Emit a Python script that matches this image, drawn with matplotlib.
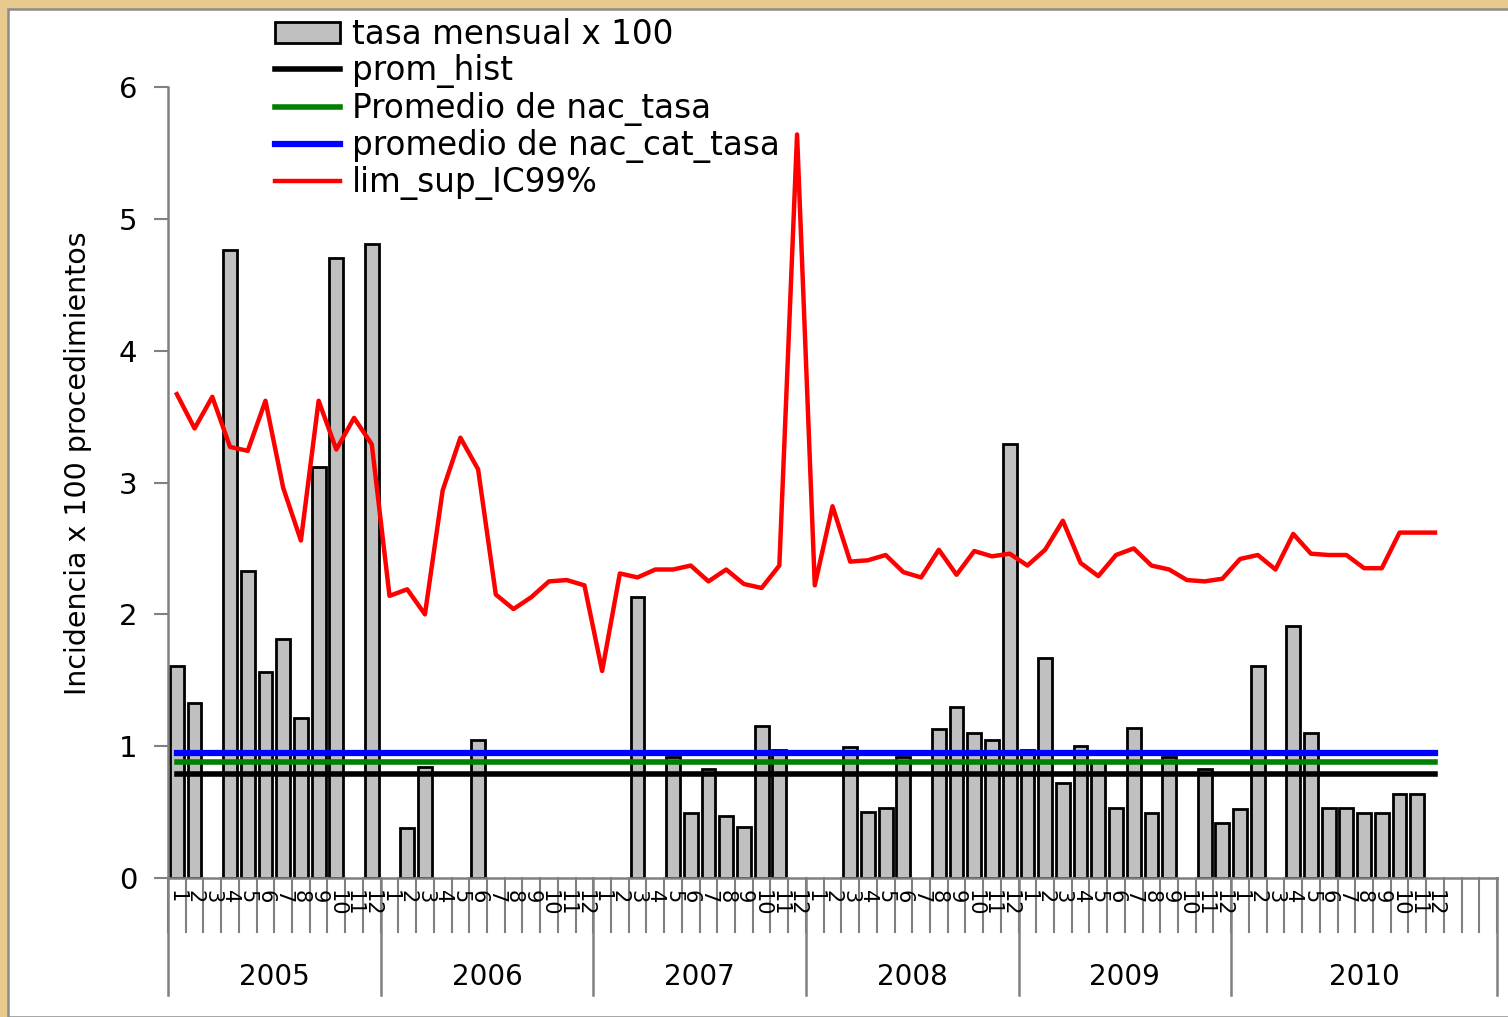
import numpy as np
import matplotlib
matplotlib.use("Agg")
import matplotlib.pyplot as plt
from matplotlib.patches import Rectangle, Patch
from matplotlib.lines import Line2D

plt.rcParams['font.family'] = ['DejaVu Sans']

# data: 72 months (2005-2010), None = no bar that month
years = ['2005', '2006', '2007', '2008', '2009', '2010']
months = [str(m) for m in range(1, 13)]

tasa = [1.61, 1.33, None, 4.76, 2.33, 1.56, 1.81, 1.21, 3.12, 4.70, None, 4.81,
        None, 0.38, 0.84, None, None, 1.05, None, None, None, None, None, None,
        None, None, 2.13, None, 0.92, 0.49, 0.83, 0.47, 0.39, 1.15, 0.97, None,
        None, None, 0.99, 0.50, 0.53, 0.92, None, 1.13, 1.30, 1.10, 1.05, 3.29,
        0.97, 1.67, 0.72, 1.00, 0.89, 0.53, 1.14, 0.49, 0.92, None, 0.83, 0.42,
        0.52, 1.61, None, 1.91, 1.10, 0.53, 0.53, 0.49, 0.49, 0.64, 0.64, None]

lim_sup = [3.67, 3.41, 3.65, 3.27, 3.24, 3.62, 2.96, 2.56, 3.62, 3.25, 3.49, 3.29,
           2.14, 2.19, 2.00, 2.94, 3.34, 3.10, 2.15, 2.04, 2.13, 2.25, 2.26, 2.22,
           1.57, 2.31, 2.28, 2.34, 2.34, 2.37, 2.25, 2.34, 2.23, 2.20, 2.37, 5.64,
           2.22, 2.82, 2.40, 2.41, 2.45, 2.32, 2.28, 2.49, 2.30, 2.48, 2.44, 2.46,
           2.37, 2.49, 2.71, 2.39, 2.29, 2.45, 2.50, 2.37, 2.34, 2.26, 2.25, 2.27,
           2.42, 2.45, 2.34, 2.61, 2.46, 2.45, 2.45, 2.35, 2.35, 2.62, 2.62, 2.62]

prom_hist = 0.79
nac_tasa = 0.88
nac_cat_tasa = 0.946

n_extra = 3  # empty categories at the end of 2010
W, H = 1508, 1017

fig = plt.figure(figsize=(W / 100, H / 100), dpi=100)
fig.patch.set_facecolor('#E8CA8E')
fig.patches.append(Rectangle((8 / W, 0), 1, 1 - 9 / H, transform=fig.transFigure,
                             facecolor='white', edgecolor='#8C8C8C', linewidth=1.8,
                             zorder=-5))

ax = fig.add_axes([168 / W, (H - 878) / H, (1497 - 168) / W, (878 - 87) / H])
ax.set_facecolor('none')
ax.set_zorder(2)

n = len(tasa)
x = np.arange(n)
h = np.array([np.nan if v is None else v for v in tasa])
mask = ~np.isnan(h)
ax.bar(x[mask], h[mask], width=0.78, color='#C0C0C0', edgecolor='black',
       linewidth=2, zorder=2)

ax.plot(x, [prom_hist] * n, color='black', linewidth=4, zorder=3)
ax.plot(x, [nac_tasa] * n, color='#008000', linewidth=4, zorder=3)
ax.plot(x, [nac_cat_tasa] * n, color='#0000FF', linewidth=4.5, zorder=3)
ax.plot(x, lim_sup, color='#FF0000', linewidth=3.2, zorder=4)

total = n + n_extra
ax.set_xlim(-0.5, total - 0.5)
ax.set_ylim(0, 6)
ax.set_yticks(range(0, 7))
ax.tick_params(axis='y', direction='out', length=10, width=1.5, color='#808080',
               labelsize=21, pad=12)
ax.set_xticks([])
for s in ['top', 'right']:
    ax.spines[s].set_visible(False)
for s in ['left', 'bottom']:
    ax.spines[s].set_color('#808080')
    ax.spines[s].set_linewidth(1.8)

# multi level category axis
tr = ax.get_xaxis_transform()
ax_h = 878 - 87
for k in range(total + 1):
    ax.plot([k - 0.5, k - 0.5], [0, -54 / ax_h], transform=tr, color='#808080',
            linewidth=1.5, clip_on=False)
for i, m in enumerate(months * len(years)):
    ax.text(i, -12 / ax_h, m, transform=tr, rotation=-90, ha='center', va='top',
            fontsize=15)
bounds = [0, 12, 24, 36, 48, 60, total]
for b in bounds:
    ax.plot([b - 0.5, b - 0.5], [0, -117 / ax_h], transform=tr, color='#808080',
            linewidth=1.8, clip_on=False)
for j, yr in enumerate(years):
    c = (bounds[j] + bounds[j + 1] - 1) / 2
    ax.text(c, -99 / ax_h, yr, transform=tr, ha='center', va='center', fontsize=20)

fig.text(78 / W, 1 - 463 / H, 'Incidencia x 100 procedimientos', rotation=90,
         ha='center', va='center', fontsize=20.5)

handles = [Patch(facecolor='#C0C0C0', edgecolor='black', linewidth=2),
           Line2D([], [], color='black', linewidth=4),
           Line2D([], [], color='#008000', linewidth=4),
           Line2D([], [], color='#0000FF', linewidth=4.5),
           Line2D([], [], color='#FF0000', linewidth=3.2)]
labels = ['tasa mensual x 100', 'prom_hist', 'Promedio de nac_tasa',
          'promedio de nac_cat_tasa', 'lim_sup_IC99%']
fig.legend(handles, labels, loc='upper left', bbox_to_anchor=(275 / W, 1 - 18 / H),
           frameon=False, fontsize=23.5, handlelength=2.0, handleheight=0.6,
           handletextpad=0.35, labelspacing=0.1, borderpad=0, borderaxespad=0)

fig.savefig('out.png', dpi=100, facecolor=fig.get_facecolor())
